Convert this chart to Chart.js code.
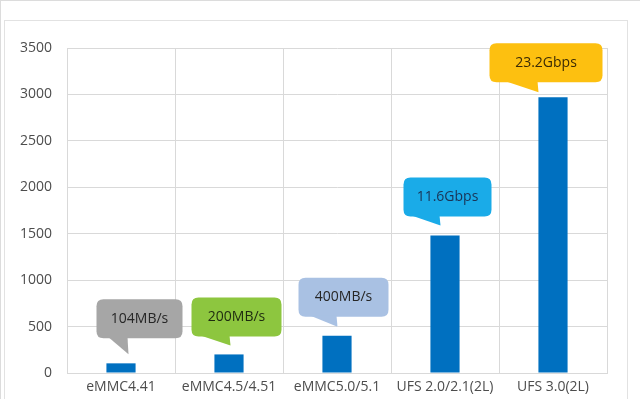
<!DOCTYPE html>
<html>
<head>
<meta charset="utf-8">
<script src="https://cdn.jsdelivr.net/npm/chart.js@4/dist/chart.umd.min.js"></script>
<style>
  html, body { margin: 0; padding: 0; background: #fff; }
  #wrap { width: 640px; height: 399px; position: relative; }
</style>
</head>
<body>
<div id="wrap"><canvas id="chart" width="640" height="399"></canvas></div>
<script>
// data
const categories = ['eMMC4.41', 'eMMC4.5/4.51', 'eMMC5.0/5.1', 'UFS 2.0/2.1(2L)', 'UFS 3.0(2L)'];
const speeds = [104, 200, 400, 1480, 2970];
const speedLabels = ['104MB/s', '200MB/s', '400MB/s', '11.6Gbps', '23.2Gbps'];
const yMax = 3500;
const yStep = 500;

// callout look (colour, text colour) and placement relative to bar centre / top
const calloutFill = ['#a6a6a6', '#8dc63f', '#a9c1e3', '#1aabe8', '#fdc010'];
const calloutInk = ['#262626', '#1e2a10', '#262626', '#1a3355', '#3a2a05'];
const calloutBox = [
  { dx: -24.5, w: 86, gap: 25, tipDx: 7.5, tipGap: 9, baseL: 12 },
  { dx: -37.5, w: 90, gap: 18, tipDx: 1.5, tipGap: 9, baseL: 9 },
  { dx: -38.5, w: 90, gap: 19, tipDx: 0.5, tipGap: 9, baseL: 12 },
  { dx: -41.5, w: 88, gap: 19, tipDx: -4.5, tipGap: 10, baseL: 8 },
  { dx: -63.5, w: 113, gap: 15, tipDx: -14.5, tipGap: 5, baseL: 16 }
];
const boxH = 39;

const frame = {
  id: 'frame',
  beforeDraw(chart) {
    const c = chart.ctx;
    c.save();
    c.fillStyle = '#fff';
    c.fillRect(0, 0, chart.width, chart.height);
    c.strokeStyle = '#dcdcdc';
    c.lineWidth = 1;
    c.strokeRect(0.5, 0.5, chart.width, chart.height + 5);
    c.strokeStyle = '#e2e2e2';
    c.strokeRect(4.5, 20.5, 623, chart.height + 5);
    c.restore();
  }
};

function roundRect(c, x, y, w, h, r) {
  c.beginPath();
  c.moveTo(x + r, y);
  c.lineTo(x + w - r, y);
  c.quadraticCurveTo(x + w, y, x + w, y + r);
  c.lineTo(x + w, y + h - r);
  c.quadraticCurveTo(x + w, y + h, x + w - r, y + h);
  c.lineTo(x + r, y + h);
  c.quadraticCurveTo(x, y + h, x, y + h - r);
  c.lineTo(x, y + r);
  c.quadraticCurveTo(x, y, x + r, y);
  c.closePath();
}

const callouts = {
  id: 'callouts',
  afterDatasetsDraw(chart) {
    const c = chart.ctx;
    const meta = chart.getDatasetMeta(0);
    c.save();
    meta.data.forEach((bar, i) => {
      const g = calloutBox[i];
      const left = bar.x + g.dx;
      const bottom = bar.y - g.gap;
      const top = bottom - boxH;
      const tipX = bar.x + g.tipDx;
      const tipY = bar.y - g.tipGap;
      c.fillStyle = calloutFill[i];
      roundRect(c, left, top, g.w, boxH, 7);
      c.fill();
      c.beginPath();
      c.moveTo(left + g.baseL, bottom - 1);
      c.lineTo(tipX - 1, bottom - 1);
      c.lineTo(tipX, tipY);
      c.closePath();
      c.fill();
      c.fillStyle = calloutInk[i];
      c.font = '14px "Open Sans"';
      c.textAlign = 'center';
      c.textBaseline = 'middle';
      c.fillText(speedLabels[i], left + g.w / 2, top + boxH / 2);
    });
    c.restore();
  }
};

new Chart(document.getElementById('chart'), {
  type: 'bar',
  data: {
    labels: categories,
    datasets: [{
      data: speeds,
      backgroundColor: '#0070c0',
      categoryPercentage: 1,
      barPercentage: 0.27
    }]
  },
  options: {
    responsive: false,
    animation: false,
    layout: { padding: { top: 48, right: 33, left: 0, bottom: 0 } },
    plugins: { legend: { display: false }, tooltip: { enabled: false } },
    scales: {
      x: {
        grid: { color: '#d9d9d9', drawTicks: false, offset: true },
        border: { color: '#d9d9d9' },
        ticks: { color: '#4d4d4d', font: { family: 'Open Sans', size: 14 }, padding: 6, maxRotation: 0 },
        afterFit(s) { s.height = 26; }
      },
      y: {
        min: 0, max: yMax,
        grid: { color: '#d9d9d9', drawTicks: false },
        border: { color: '#d9d9d9' },
        ticks: {
          stepSize: yStep, color: '#4d4d4d', font: { family: 'Open Sans', size: 14 }, padding: 15,
          callback: (v) => String(v)
        },
        afterFit(s) { s.width = 67; }
      }
    }
  },
  plugins: [frame, callouts]
});
</script>
</body>
</html>
